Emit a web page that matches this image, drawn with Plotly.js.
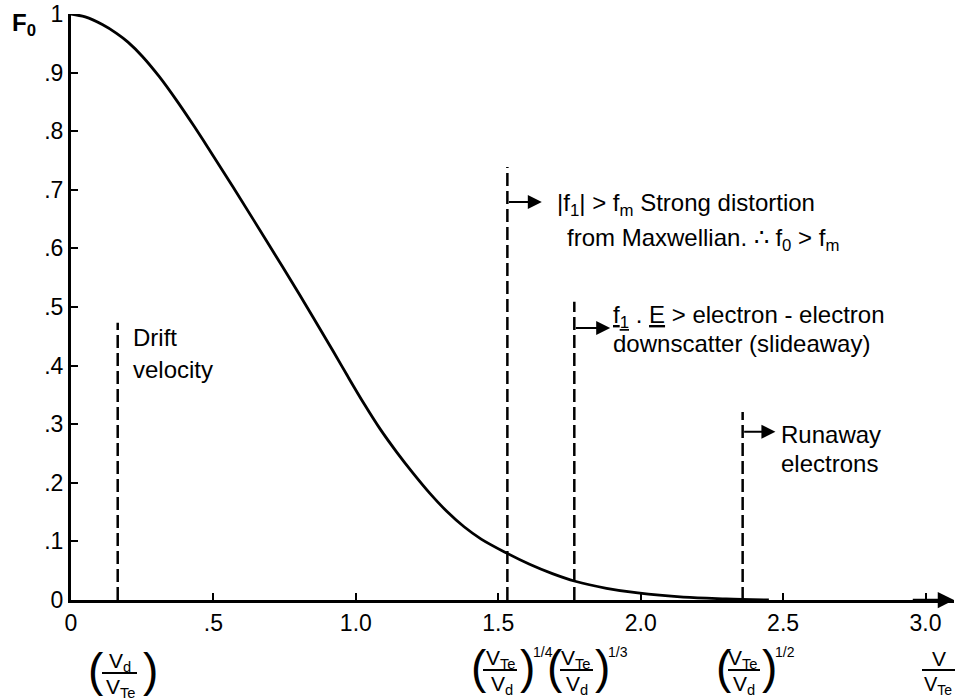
<!DOCTYPE html>
<html>
<head>
<meta charset="utf-8">
<script src="https://cdn.plot.ly/plotly-3.0.1.min.js"></script>
<style>html,body{margin:0;padding:0;background:#fff;}</style>
</head>
<body>
<div id="chart" style="width:955px;height:700px;"></div>
<script>
// ---- data ----
const speed = [0, 0.05, 0.11, 0.16, 0.20, 0.25, 0.31, 0.37, 0.43, 0.49, 0.57, 0.69, 0.80, 0.92, 0.97, 1.03, 1.085, 1.144, 1.20, 1.26, 1.32, 1.38, 1.44, 1.53, 1.61, 1.69, 1.77, 1.88, 1.99, 2.15, 2.30, 2.45];
const f0 = [1.0, 0.995, 0.982, 0.967, 0.952, 0.928, 0.893, 0.853, 0.810, 0.765, 0.704, 0.610, 0.523, 0.425, 0.383, 0.334, 0.292, 0.252, 0.217, 0.182, 0.151, 0.125, 0.104, 0.080, 0.061, 0.045, 0.032, 0.020, 0.012, 0.005, 0.002, 0.0];

const markerV = [0.164, 1.532, 1.767, 2.358];
const markerTop = [0.473, 0.739, 0.509, 0.321];
const arrowY = [null, 0.679, 0.464, 0.287];
const arrowEnd = [null, 1.653, 1.893, 2.473];

const xTickVals = [0, 0.5, 1.0, 1.5, 2.0, 2.5, 3.0];
const xTickText = ['0', '.5', '1.0', '1.5', '2.0', '2.5', '3.0'];
const yTickVals = [0, 0.1, 0.2, 0.3, 0.4, 0.5, 0.6, 0.7, 0.8, 0.9, 1.0];
const yTickText = ['0', '.1', '.2', '.3', '.4', '.5', '.6', '.7', '.8', '.9', '1'];

// ---- layout helpers (pixel -> paper) ----
const L = 71, R = 954, T = 14, B = 600;
const px = p => (p - L) / (R - L);
const py = p => (B - p) / (B - T);
const FONT = 'Liberation Sans, Arial, Helvetica, sans-serif';

const traces = [{
  x: speed, y: f0, type: 'scatter', mode: 'lines',
  line: {color: 'black', width: 2.8, shape: 'spline', smoothing: 1},
  cliponaxis: false, hoverinfo: 'skip'
}];
markerV.forEach((v, i) => {
  traces.push({
    x: [v, v], y: [0, markerTop[i]], type: 'scatter', mode: 'lines',
    line: {color: 'black', width: 2.5, dash: '13px,5px'}, hoverinfo: 'skip'
  });
});

const annotations = [];
// x-axis arrow
annotations.push({x: 3.1, y: 0, ax: 2.95, ay: 0, xref: 'x', yref: 'y', axref: 'x', ayref: 'y',
  text: '', showarrow: true, arrowhead: 2, arrowsize: 1.3, arrowwidth: 2.5, arrowcolor: 'black', standoff: 0});
// region arrows
markerV.forEach((v, i) => {
  if (arrowY[i] === null) return;
  annotations.push({x: arrowEnd[i], y: arrowY[i], ax: v, ay: arrowY[i], xref: 'x', yref: 'y', axref: 'x', ayref: 'y',
    text: '', showarrow: true, arrowhead: 2, arrowsize: 1.4, arrowwidth: 2, arrowcolor: 'black', standoff: 0});
});

function txt(text, xp, yp, size, anchor, extra) {
  annotations.push(Object.assign({text: text, x: px(xp), y: py(yp), xref: 'paper', yref: 'paper',
    xanchor: anchor || 'left', yanchor: 'middle', showarrow: false, borderpad: 0,
    font: {family: FONT, size: size, color: 'black'}}, extra || {}));
}
// in-plot labels
const TS = 24;
txt('Drift', 132, 337, TS);
txt('velocity', 132, 369, TS);
txt('|f<sub>1</sub>| > f<sub>m</sub> Strong distortion', 556, 205, TS);
txt('from Maxwellian. ∴ f<sub>0</sub> > f<sub>m</sub>', 566, 239, TS);
txt('<u>f<sub>1</sub></u> . <u>E</u> > electron - electron', 612, 316, TS);
txt('downscatter (slideaway)', 612, 344, TS);
txt('Runaway', 780, 434, TS);
txt('electrons', 780, 463, TS);
// y label
txt('<b>F<sub>0</sub></b>', 24, 25, 24, 'center');

// fraction labels below the axis
const shapes = [];
function frac(num, den, cx, lineY, x0, x1, parL, parR, exp) {
  txt(num, cx, lineY - 11, 21, 'center');
  txt(den, cx + 1, lineY + 15, 21, 'center');
  shapes.push({type: 'line', xref: 'paper', yref: 'paper', x0: px(x0), x1: px(x1), y0: py(lineY), y1: py(lineY),
    line: {color: 'black', width: 2}});
  txt('(', parL, lineY - 3, 46, 'center');
  txt(')', parR, lineY - 3, 46, 'center');
  if (exp) txt(exp, parR + 5, lineY - 18, 14, 'left');
}
frac('V<sub>d</sub>', 'V<sub>Te</sub>', 120, 673, 102, 137, 96, 150, null);
frac('V<sub>Te</sub>', 'V<sub>d</sub>', 501, 670, 483, 517, 479, 527, '1/4');
frac('V<sub>Te</sub>', 'V<sub>d</sub>', 576, 670, 560, 593, 555, 602, '1/3');
frac('V<sub>Te</sub>', 'V<sub>d</sub>', 743, 670, 728, 760, 724, 769, '1/2');
// V / V_Te axis title
txt('V', 939, 658, 21, 'center');
txt('V<sub>Te</sub>', 938, 685, 20, 'center');
shapes.push({type: 'line', xref: 'paper', yref: 'paper', x0: px(922), x1: px(955), y0: py(670), y1: py(670),
  line: {color: 'black', width: 2}});

const axisCommon = {
  showgrid: false, zeroline: false, showline: true, linewidth: 3, linecolor: 'black',
  ticks: 'inside', ticklen: 7, tickwidth: 2, tickcolor: 'black',
  tickfont: {family: FONT, size: 23, color: 'black'}, fixedrange: true
};
const layout = {
  width: 955, height: 700,
  margin: {l: L, r: 955 - R, t: T, b: 700 - B, pad: 0},
  paper_bgcolor: 'white', plot_bgcolor: 'white', showlegend: false,
  font: {family: FONT, color: 'black'},
  xaxis: Object.assign({}, axisCommon, {range: [0, 3.1], tickmode: 'array', tickvals: xTickVals, ticktext: xTickText}),
  yaxis: Object.assign({}, axisCommon, {range: [0, 1], tickmode: 'array', tickvals: yTickVals, ticktext: yTickText}),
  annotations: annotations, shapes: shapes
};
Plotly.newPlot('chart', traces, layout, {displayModeBar: false, staticPlot: true});
</script>
</body>
</html>
